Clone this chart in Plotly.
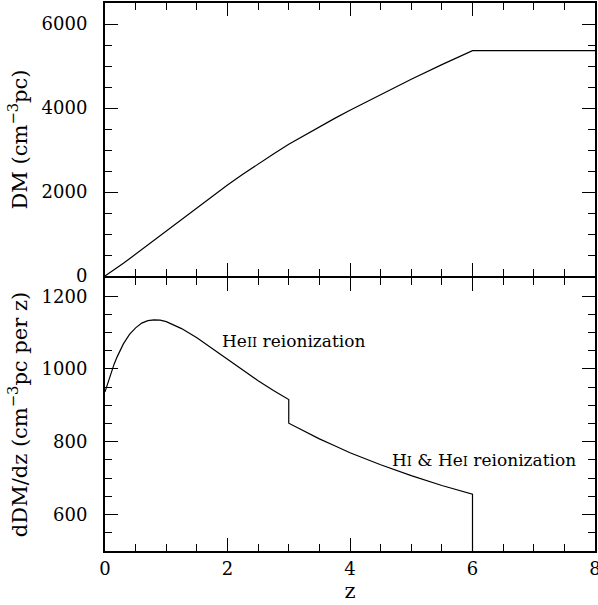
import plotly.graph_objects as go

# Redshift samples
z = [0.0, 0.05, 0.1, 0.15, 0.2, 0.25, 0.3, 0.4, 0.5, 0.6, 0.7, 0.8, 0.9, 1.0,
     1.25, 1.5, 1.75, 2.0, 2.25, 2.5, 2.75, 3.0,
     3.0, 3.25, 3.5, 3.75, 4.0, 4.5, 5.0, 5.5, 6.0,
     6.0, 7.0, 8.0]

# Cumulative dispersion measure (cm^-3 pc)
dm = [0, 48, 96, 147, 198, 250, 303, 411, 521, 633, 746, 860, 973, 1087,
      1367, 1641, 1909, 2169, 2422, 2668, 2906, 3138,
      3138, 3348, 3553, 3753, 3948, 4324, 4685, 5032, 5366,
      5366, 5366, 5366]

# dDM/dz (cm^-3 pc per z)
ddm = [937, 965, 990, 1014, 1034, 1053, 1069, 1095, 1113, 1126, 1133, 1135, 1134, 1130,
       1111, 1086, 1056, 1026, 997, 968, 941, 916,
       851, 829, 808, 789, 770, 737, 707, 680, 656,
       0, 0, 0]

fig = go.Figure()
fig.add_trace(go.Scatter(x=z, y=dm, mode="lines", xaxis="x", yaxis="y",
                         line=dict(color="black", width=1.2), showlegend=False))
fig.add_trace(go.Scatter(x=z, y=ddm, mode="lines", xaxis="x2", yaxis="y2",
                         line=dict(color="black", width=1.2), showlegend=False))

font = dict(family="DejaVu Serif", size=18, color="black")
title_font = dict(family="DejaVu Serif", size=21, color="black")

common = dict(showline=True, linecolor="black", linewidth=2, mirror="allticks",
              ticks="inside", ticklen=13, tickwidth=1, tickcolor="black",
              showgrid=False, zeroline=False, tickfont=font, automargin=False)

xminor = dict(dtick=0.5, ticks="inside", ticklen=7, tickcolor="black")

fig.update_layout(
    width=598, height=605,
    margin=dict(l=105, r=3, t=3, b=54),
    paper_bgcolor="white", plot_bgcolor="white", font=font,
    xaxis=dict(range=[0, 8], dtick=2, minor=xminor, anchor="y",
               showticklabels=False, matches="x2", **common),
    xaxis2=dict(range=[0, 8], dtick=2, minor=xminor, anchor="y2",
                ticklabelstandoff=0, ticklabeloverflow="allow",
                title=dict(text="z", font=title_font, standoff=0), **common),
    yaxis=dict(domain=[0.50182, 1], range=[0, 6500], dtick=2000, anchor="x",
               minor=dict(dtick=500, ticks="inside", ticklen=7, tickcolor="black"),
               title=dict(text="DM (cm<sup>−3</sup>pc)", font=title_font, standoff=8),
               ticklabelstandoff=12, **common),
    yaxis2=dict(domain=[0, 0.49818], range=[500, 1250], dtick=200, anchor="x2",
                minor=dict(dtick=50, ticks="inside", ticklen=7, tickcolor="black"),
                title=dict(text="dDM/dz (cm<sup>−3</sup>pc per z)", font=title_font, standoff=8),
                ticklabelstandoff=12, **common),
)

ann_font = dict(family="DejaVu Serif", size=17, color="black")
fig.add_annotation(x=1.88, y=1077, xref="x2", yref="y2", xanchor="left", yanchor="middle",
                   text='He<span style="font-size:13px">II</span> reionization',
                   showarrow=False, font=ann_font)
fig.add_annotation(x=4.65, y=750, xref="x2", yref="y2", xanchor="left", yanchor="middle",
                   text='H<span style="font-size:13px">I</span> &amp; He<span style="font-size:13px">I</span> reionization',
                   showarrow=False, font=ann_font)

fig.write_html("out.html", config={"displayModeBar": False},
               post_script="document.body.style.margin='0';document.body.style.overflow='hidden';")
